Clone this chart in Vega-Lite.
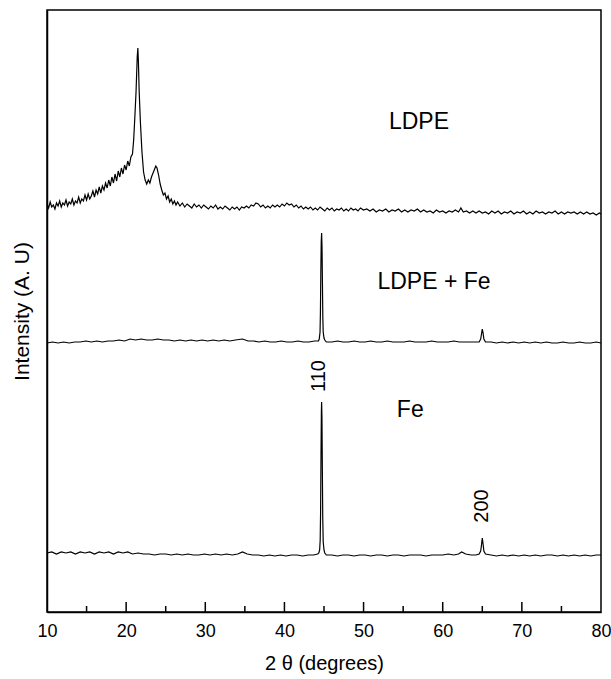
{
  "$schema": "https://vega.github.io/schema/vega-lite/v6.json",
  "width": 554,
  "height": 602,
  "autosize": {"type": "none"},
  "padding": {"left": 47, "top": 10, "right": 10, "bottom": 67},
  "background": "white",
  "config": {
    "view": {"stroke": "black", "strokeWidth": 1.5},
    "font": "Liberation Sans"
  },
  "datasets": {
    "xrd": [
      {"theta": 10.0, "intensity": 408, "sample": "LDPE"},
      {"theta": 10.2, "intensity": 404, "sample": "LDPE"},
      {"theta": 10.4, "intensity": 410, "sample": "LDPE"},
      {"theta": 10.6, "intensity": 405, "sample": "LDPE"},
      {"theta": 10.8, "intensity": 407, "sample": "LDPE"},
      {"theta": 11.0, "intensity": 403, "sample": "LDPE"},
      {"theta": 11.2, "intensity": 409, "sample": "LDPE"},
      {"theta": 11.4, "intensity": 406, "sample": "LDPE"},
      {"theta": 11.6, "intensity": 411, "sample": "LDPE"},
      {"theta": 11.8, "intensity": 405, "sample": "LDPE"},
      {"theta": 12.0, "intensity": 409, "sample": "LDPE"},
      {"theta": 12.2, "intensity": 407, "sample": "LDPE"},
      {"theta": 12.4, "intensity": 412, "sample": "LDPE"},
      {"theta": 12.6, "intensity": 406, "sample": "LDPE"},
      {"theta": 12.8, "intensity": 410, "sample": "LDPE"},
      {"theta": 13.0, "intensity": 408, "sample": "LDPE"},
      {"theta": 13.2, "intensity": 413, "sample": "LDPE"},
      {"theta": 13.4, "intensity": 407, "sample": "LDPE"},
      {"theta": 13.6, "intensity": 411, "sample": "LDPE"},
      {"theta": 13.8, "intensity": 409, "sample": "LDPE"},
      {"theta": 14.0, "intensity": 415, "sample": "LDPE"},
      {"theta": 14.2, "intensity": 409, "sample": "LDPE"},
      {"theta": 14.4, "intensity": 413, "sample": "LDPE"},
      {"theta": 14.6, "intensity": 411, "sample": "LDPE"},
      {"theta": 14.8, "intensity": 417, "sample": "LDPE"},
      {"theta": 15.0, "intensity": 412, "sample": "LDPE"},
      {"theta": 15.2, "intensity": 418, "sample": "LDPE"},
      {"theta": 15.4, "intensity": 413, "sample": "LDPE"},
      {"theta": 15.6, "intensity": 416, "sample": "LDPE"},
      {"theta": 15.8, "intensity": 421, "sample": "LDPE"},
      {"theta": 16.0, "intensity": 415, "sample": "LDPE"},
      {"theta": 16.2, "intensity": 422, "sample": "LDPE"},
      {"theta": 16.4, "intensity": 418, "sample": "LDPE"},
      {"theta": 16.6, "intensity": 425, "sample": "LDPE"},
      {"theta": 16.8, "intensity": 419, "sample": "LDPE"},
      {"theta": 17.0, "intensity": 426, "sample": "LDPE"},
      {"theta": 17.2, "intensity": 422, "sample": "LDPE"},
      {"theta": 17.4, "intensity": 429, "sample": "LDPE"},
      {"theta": 17.6, "intensity": 424, "sample": "LDPE"},
      {"theta": 17.8, "intensity": 432, "sample": "LDPE"},
      {"theta": 18.0, "intensity": 426, "sample": "LDPE"},
      {"theta": 18.2, "intensity": 435, "sample": "LDPE"},
      {"theta": 18.4, "intensity": 429, "sample": "LDPE"},
      {"theta": 18.6, "intensity": 438, "sample": "LDPE"},
      {"theta": 18.8, "intensity": 431, "sample": "LDPE"},
      {"theta": 19.0, "intensity": 441, "sample": "LDPE"},
      {"theta": 19.2, "intensity": 435, "sample": "LDPE"},
      {"theta": 19.4, "intensity": 444, "sample": "LDPE"},
      {"theta": 19.6, "intensity": 438, "sample": "LDPE"},
      {"theta": 19.8, "intensity": 447, "sample": "LDPE"},
      {"theta": 20.0, "intensity": 442, "sample": "LDPE"},
      {"theta": 20.2, "intensity": 451, "sample": "LDPE"},
      {"theta": 20.4, "intensity": 446, "sample": "LDPE"},
      {"theta": 20.6, "intensity": 455, "sample": "LDPE"},
      {"theta": 20.8, "intensity": 458, "sample": "LDPE"},
      {"theta": 20.95, "intensity": 472, "sample": "LDPE"},
      {"theta": 21.1, "intensity": 495, "sample": "LDPE"},
      {"theta": 21.25, "intensity": 520, "sample": "LDPE"},
      {"theta": 21.4, "intensity": 555, "sample": "LDPE"},
      {"theta": 21.48, "intensity": 564, "sample": "LDPE"},
      {"theta": 21.55, "intensity": 550, "sample": "LDPE"},
      {"theta": 21.65, "intensity": 520, "sample": "LDPE"},
      {"theta": 21.8, "intensity": 490, "sample": "LDPE"},
      {"theta": 22.0, "intensity": 460, "sample": "LDPE"},
      {"theta": 22.2, "intensity": 440, "sample": "LDPE"},
      {"theta": 22.4, "intensity": 432, "sample": "LDPE"},
      {"theta": 22.6, "intensity": 428, "sample": "LDPE"},
      {"theta": 22.8, "intensity": 432, "sample": "LDPE"},
      {"theta": 23.0, "intensity": 429, "sample": "LDPE"},
      {"theta": 23.2, "intensity": 435, "sample": "LDPE"},
      {"theta": 23.4, "intensity": 439, "sample": "LDPE"},
      {"theta": 23.6, "intensity": 443, "sample": "LDPE"},
      {"theta": 23.75, "intensity": 446, "sample": "LDPE"},
      {"theta": 23.9, "intensity": 444, "sample": "LDPE"},
      {"theta": 24.1, "intensity": 437, "sample": "LDPE"},
      {"theta": 24.3, "intensity": 428, "sample": "LDPE"},
      {"theta": 24.5, "intensity": 422, "sample": "LDPE"},
      {"theta": 24.7, "intensity": 417, "sample": "LDPE"},
      {"theta": 24.9, "intensity": 419, "sample": "LDPE"},
      {"theta": 25.1, "intensity": 413, "sample": "LDPE"},
      {"theta": 25.3, "intensity": 416, "sample": "LDPE"},
      {"theta": 25.5, "intensity": 410, "sample": "LDPE"},
      {"theta": 25.7, "intensity": 413, "sample": "LDPE"},
      {"theta": 25.9, "intensity": 408, "sample": "LDPE"},
      {"theta": 26.1, "intensity": 411, "sample": "LDPE"},
      {"theta": 26.3, "intensity": 407, "sample": "LDPE"},
      {"theta": 26.5, "intensity": 410, "sample": "LDPE"},
      {"theta": 26.8, "intensity": 406, "sample": "LDPE"},
      {"theta": 27.1, "intensity": 409, "sample": "LDPE"},
      {"theta": 27.4, "intensity": 405, "sample": "LDPE"},
      {"theta": 27.7, "intensity": 408, "sample": "LDPE"},
      {"theta": 28.0, "intensity": 406, "sample": "LDPE"},
      {"theta": 28.3, "intensity": 404, "sample": "LDPE"},
      {"theta": 28.6, "intensity": 408, "sample": "LDPE"},
      {"theta": 28.9, "intensity": 405, "sample": "LDPE"},
      {"theta": 29.2, "intensity": 407, "sample": "LDPE"},
      {"theta": 29.5, "intensity": 404, "sample": "LDPE"},
      {"theta": 29.8, "intensity": 407, "sample": "LDPE"},
      {"theta": 30.1, "intensity": 405, "sample": "LDPE"},
      {"theta": 30.4, "intensity": 403, "sample": "LDPE"},
      {"theta": 30.7, "intensity": 406, "sample": "LDPE"},
      {"theta": 31.0, "intensity": 404, "sample": "LDPE"},
      {"theta": 31.3, "intensity": 407, "sample": "LDPE"},
      {"theta": 31.6, "intensity": 403, "sample": "LDPE"},
      {"theta": 31.9, "intensity": 405, "sample": "LDPE"},
      {"theta": 32.2, "intensity": 403, "sample": "LDPE"},
      {"theta": 32.5, "intensity": 406, "sample": "LDPE"},
      {"theta": 32.8, "intensity": 404, "sample": "LDPE"},
      {"theta": 33.1, "intensity": 402, "sample": "LDPE"},
      {"theta": 33.4, "intensity": 405, "sample": "LDPE"},
      {"theta": 33.7, "intensity": 403, "sample": "LDPE"},
      {"theta": 34.0, "intensity": 405, "sample": "LDPE"},
      {"theta": 34.3, "intensity": 402, "sample": "LDPE"},
      {"theta": 34.6, "intensity": 405, "sample": "LDPE"},
      {"theta": 34.9, "intensity": 404, "sample": "LDPE"},
      {"theta": 35.2, "intensity": 406, "sample": "LDPE"},
      {"theta": 35.5, "intensity": 404, "sample": "LDPE"},
      {"theta": 35.8, "intensity": 407, "sample": "LDPE"},
      {"theta": 36.1, "intensity": 406, "sample": "LDPE"},
      {"theta": 36.4, "intensity": 409, "sample": "LDPE"},
      {"theta": 36.7, "intensity": 408, "sample": "LDPE"},
      {"theta": 37.0, "intensity": 405, "sample": "LDPE"},
      {"theta": 37.3, "intensity": 407, "sample": "LDPE"},
      {"theta": 37.6, "intensity": 404, "sample": "LDPE"},
      {"theta": 37.9, "intensity": 406, "sample": "LDPE"},
      {"theta": 38.2, "intensity": 404, "sample": "LDPE"},
      {"theta": 38.5, "intensity": 407, "sample": "LDPE"},
      {"theta": 38.8, "intensity": 405, "sample": "LDPE"},
      {"theta": 39.1, "intensity": 407, "sample": "LDPE"},
      {"theta": 39.4, "intensity": 405, "sample": "LDPE"},
      {"theta": 39.7, "intensity": 408, "sample": "LDPE"},
      {"theta": 40.0, "intensity": 406, "sample": "LDPE"},
      {"theta": 40.3, "intensity": 409, "sample": "LDPE"},
      {"theta": 40.6, "intensity": 407, "sample": "LDPE"},
      {"theta": 40.9, "intensity": 408, "sample": "LDPE"},
      {"theta": 41.2, "intensity": 405, "sample": "LDPE"},
      {"theta": 41.5, "intensity": 407, "sample": "LDPE"},
      {"theta": 41.8, "intensity": 404, "sample": "LDPE"},
      {"theta": 42.1, "intensity": 406, "sample": "LDPE"},
      {"theta": 42.4, "intensity": 403, "sample": "LDPE"},
      {"theta": 42.7, "intensity": 405, "sample": "LDPE"},
      {"theta": 43.0, "intensity": 403, "sample": "LDPE"},
      {"theta": 43.3, "intensity": 405, "sample": "LDPE"},
      {"theta": 43.6, "intensity": 402, "sample": "LDPE"},
      {"theta": 43.9, "intensity": 404, "sample": "LDPE"},
      {"theta": 44.2, "intensity": 402, "sample": "LDPE"},
      {"theta": 44.5, "intensity": 405, "sample": "LDPE"},
      {"theta": 44.8, "intensity": 403, "sample": "LDPE"},
      {"theta": 45.1, "intensity": 401, "sample": "LDPE"},
      {"theta": 45.4, "intensity": 404, "sample": "LDPE"},
      {"theta": 45.7, "intensity": 402, "sample": "LDPE"},
      {"theta": 46.0, "intensity": 404, "sample": "LDPE"},
      {"theta": 46.3, "intensity": 401, "sample": "LDPE"},
      {"theta": 46.6, "intensity": 403, "sample": "LDPE"},
      {"theta": 46.9, "intensity": 402, "sample": "LDPE"},
      {"theta": 47.2, "intensity": 404, "sample": "LDPE"},
      {"theta": 47.5, "intensity": 401, "sample": "LDPE"},
      {"theta": 47.8, "intensity": 403, "sample": "LDPE"},
      {"theta": 48.1, "intensity": 401, "sample": "LDPE"},
      {"theta": 48.4, "intensity": 404, "sample": "LDPE"},
      {"theta": 48.7, "intensity": 402, "sample": "LDPE"},
      {"theta": 49.0, "intensity": 403, "sample": "LDPE"},
      {"theta": 49.3, "intensity": 401, "sample": "LDPE"},
      {"theta": 49.6, "intensity": 404, "sample": "LDPE"},
      {"theta": 50.0, "intensity": 402, "sample": "LDPE"},
      {"theta": 50.4, "intensity": 403, "sample": "LDPE"},
      {"theta": 50.8, "intensity": 401, "sample": "LDPE"},
      {"theta": 51.2, "intensity": 403, "sample": "LDPE"},
      {"theta": 51.6, "intensity": 400, "sample": "LDPE"},
      {"theta": 52.0, "intensity": 402, "sample": "LDPE"},
      {"theta": 52.4, "intensity": 401, "sample": "LDPE"},
      {"theta": 52.8, "intensity": 403, "sample": "LDPE"},
      {"theta": 53.2, "intensity": 400, "sample": "LDPE"},
      {"theta": 53.6, "intensity": 402, "sample": "LDPE"},
      {"theta": 54.0, "intensity": 401, "sample": "LDPE"},
      {"theta": 54.4, "intensity": 403, "sample": "LDPE"},
      {"theta": 54.8, "intensity": 400, "sample": "LDPE"},
      {"theta": 55.2, "intensity": 402, "sample": "LDPE"},
      {"theta": 55.6, "intensity": 400, "sample": "LDPE"},
      {"theta": 56.0, "intensity": 402, "sample": "LDPE"},
      {"theta": 56.4, "intensity": 401, "sample": "LDPE"},
      {"theta": 56.8, "intensity": 403, "sample": "LDPE"},
      {"theta": 57.2, "intensity": 400, "sample": "LDPE"},
      {"theta": 57.6, "intensity": 402, "sample": "LDPE"},
      {"theta": 58.0, "intensity": 400, "sample": "LDPE"},
      {"theta": 58.4, "intensity": 401, "sample": "LDPE"},
      {"theta": 58.8, "intensity": 399, "sample": "LDPE"},
      {"theta": 59.2, "intensity": 402, "sample": "LDPE"},
      {"theta": 59.6, "intensity": 400, "sample": "LDPE"},
      {"theta": 60.0, "intensity": 401, "sample": "LDPE"},
      {"theta": 60.4, "intensity": 399, "sample": "LDPE"},
      {"theta": 60.8, "intensity": 401, "sample": "LDPE"},
      {"theta": 61.2, "intensity": 400, "sample": "LDPE"},
      {"theta": 61.6, "intensity": 402, "sample": "LDPE"},
      {"theta": 62.0, "intensity": 400, "sample": "LDPE"},
      {"theta": 62.3, "intensity": 404, "sample": "LDPE"},
      {"theta": 62.6, "intensity": 400, "sample": "LDPE"},
      {"theta": 63.0, "intensity": 401, "sample": "LDPE"},
      {"theta": 63.4, "intensity": 399, "sample": "LDPE"},
      {"theta": 63.8, "intensity": 401, "sample": "LDPE"},
      {"theta": 64.2, "intensity": 399, "sample": "LDPE"},
      {"theta": 64.6, "intensity": 401, "sample": "LDPE"},
      {"theta": 65.0, "intensity": 399, "sample": "LDPE"},
      {"theta": 65.4, "intensity": 400, "sample": "LDPE"},
      {"theta": 65.8, "intensity": 398, "sample": "LDPE"},
      {"theta": 66.2, "intensity": 401, "sample": "LDPE"},
      {"theta": 66.6, "intensity": 399, "sample": "LDPE"},
      {"theta": 67.0, "intensity": 401, "sample": "LDPE"},
      {"theta": 67.4, "intensity": 398, "sample": "LDPE"},
      {"theta": 67.8, "intensity": 400, "sample": "LDPE"},
      {"theta": 68.2, "intensity": 399, "sample": "LDPE"},
      {"theta": 68.6, "intensity": 401, "sample": "LDPE"},
      {"theta": 69.0, "intensity": 398, "sample": "LDPE"},
      {"theta": 69.4, "intensity": 400, "sample": "LDPE"},
      {"theta": 69.8, "intensity": 399, "sample": "LDPE"},
      {"theta": 70.2, "intensity": 401, "sample": "LDPE"},
      {"theta": 70.6, "intensity": 398, "sample": "LDPE"},
      {"theta": 71.0, "intensity": 400, "sample": "LDPE"},
      {"theta": 71.4, "intensity": 398, "sample": "LDPE"},
      {"theta": 71.8, "intensity": 401, "sample": "LDPE"},
      {"theta": 72.2, "intensity": 399, "sample": "LDPE"},
      {"theta": 72.6, "intensity": 400, "sample": "LDPE"},
      {"theta": 73.0, "intensity": 398, "sample": "LDPE"},
      {"theta": 73.4, "intensity": 400, "sample": "LDPE"},
      {"theta": 73.8, "intensity": 399, "sample": "LDPE"},
      {"theta": 74.2, "intensity": 401, "sample": "LDPE"},
      {"theta": 74.6, "intensity": 398, "sample": "LDPE"},
      {"theta": 75.0, "intensity": 400, "sample": "LDPE"},
      {"theta": 75.4, "intensity": 398, "sample": "LDPE"},
      {"theta": 75.8, "intensity": 400, "sample": "LDPE"},
      {"theta": 76.2, "intensity": 399, "sample": "LDPE"},
      {"theta": 76.6, "intensity": 400, "sample": "LDPE"},
      {"theta": 77.0, "intensity": 398, "sample": "LDPE"},
      {"theta": 77.4, "intensity": 400, "sample": "LDPE"},
      {"theta": 77.8, "intensity": 398, "sample": "LDPE"},
      {"theta": 78.2, "intensity": 400, "sample": "LDPE"},
      {"theta": 78.6, "intensity": 398, "sample": "LDPE"},
      {"theta": 79.0, "intensity": 399, "sample": "LDPE"},
      {"theta": 79.4, "intensity": 397, "sample": "LDPE"},
      {"theta": 79.8, "intensity": 399, "sample": "LDPE"},
      {"theta": 80.0, "intensity": 398, "sample": "LDPE"},

      {"theta": 10.0, "intensity": 269, "sample": "LDPE + Fe"},
      {"theta": 10.7, "intensity": 270, "sample": "LDPE + Fe"},
      {"theta": 11.4, "intensity": 269, "sample": "LDPE + Fe"},
      {"theta": 12.1, "intensity": 270, "sample": "LDPE + Fe"},
      {"theta": 12.8, "intensity": 269, "sample": "LDPE + Fe"},
      {"theta": 13.5, "intensity": 270, "sample": "LDPE + Fe"},
      {"theta": 14.2, "intensity": 270, "sample": "LDPE + Fe"},
      {"theta": 14.9, "intensity": 271, "sample": "LDPE + Fe"},
      {"theta": 15.6, "intensity": 270, "sample": "LDPE + Fe"},
      {"theta": 16.3, "intensity": 271, "sample": "LDPE + Fe"},
      {"theta": 17.0, "intensity": 270, "sample": "LDPE + Fe"},
      {"theta": 17.7, "intensity": 271, "sample": "LDPE + Fe"},
      {"theta": 18.4, "intensity": 271, "sample": "LDPE + Fe"},
      {"theta": 19.1, "intensity": 272, "sample": "LDPE + Fe"},
      {"theta": 19.8, "intensity": 271, "sample": "LDPE + Fe"},
      {"theta": 20.5, "intensity": 273, "sample": "LDPE + Fe"},
      {"theta": 21.2, "intensity": 272, "sample": "LDPE + Fe"},
      {"theta": 21.9, "intensity": 273, "sample": "LDPE + Fe"},
      {"theta": 22.6, "intensity": 272, "sample": "LDPE + Fe"},
      {"theta": 23.3, "intensity": 272, "sample": "LDPE + Fe"},
      {"theta": 24.0, "intensity": 273, "sample": "LDPE + Fe"},
      {"theta": 24.7, "intensity": 272, "sample": "LDPE + Fe"},
      {"theta": 25.4, "intensity": 272, "sample": "LDPE + Fe"},
      {"theta": 26.1, "intensity": 271, "sample": "LDPE + Fe"},
      {"theta": 26.8, "intensity": 272, "sample": "LDPE + Fe"},
      {"theta": 27.5, "intensity": 271, "sample": "LDPE + Fe"},
      {"theta": 28.2, "intensity": 272, "sample": "LDPE + Fe"},
      {"theta": 28.9, "intensity": 271, "sample": "LDPE + Fe"},
      {"theta": 29.6, "intensity": 272, "sample": "LDPE + Fe"},
      {"theta": 30.3, "intensity": 271, "sample": "LDPE + Fe"},
      {"theta": 31.0, "intensity": 272, "sample": "LDPE + Fe"},
      {"theta": 31.7, "intensity": 271, "sample": "LDPE + Fe"},
      {"theta": 32.4, "intensity": 272, "sample": "LDPE + Fe"},
      {"theta": 33.1, "intensity": 271, "sample": "LDPE + Fe"},
      {"theta": 33.8, "intensity": 272, "sample": "LDPE + Fe"},
      {"theta": 34.7, "intensity": 273, "sample": "LDPE + Fe"},
      {"theta": 35.4, "intensity": 271, "sample": "LDPE + Fe"},
      {"theta": 36.1, "intensity": 271, "sample": "LDPE + Fe"},
      {"theta": 36.8, "intensity": 270, "sample": "LDPE + Fe"},
      {"theta": 37.5, "intensity": 271, "sample": "LDPE + Fe"},
      {"theta": 38.2, "intensity": 270, "sample": "LDPE + Fe"},
      {"theta": 38.9, "intensity": 270, "sample": "LDPE + Fe"},
      {"theta": 39.6, "intensity": 271, "sample": "LDPE + Fe"},
      {"theta": 40.3, "intensity": 270, "sample": "LDPE + Fe"},
      {"theta": 41.0, "intensity": 270, "sample": "LDPE + Fe"},
      {"theta": 41.7, "intensity": 271, "sample": "LDPE + Fe"},
      {"theta": 42.4, "intensity": 270, "sample": "LDPE + Fe"},
      {"theta": 43.1, "intensity": 270, "sample": "LDPE + Fe"},
      {"theta": 43.8, "intensity": 271, "sample": "LDPE + Fe"},
      {"theta": 44.3, "intensity": 271, "sample": "LDPE + Fe"},
      {"theta": 44.4, "intensity": 273, "sample": "LDPE + Fe"},
      {"theta": 44.5, "intensity": 280, "sample": "LDPE + Fe"},
      {"theta": 44.55, "intensity": 300, "sample": "LDPE + Fe"},
      {"theta": 44.6, "intensity": 340, "sample": "LDPE + Fe"},
      {"theta": 44.65, "intensity": 370, "sample": "LDPE + Fe"},
      {"theta": 44.7, "intensity": 379, "sample": "LDPE + Fe"},
      {"theta": 44.75, "intensity": 365, "sample": "LDPE + Fe"},
      {"theta": 44.8, "intensity": 330, "sample": "LDPE + Fe"},
      {"theta": 44.85, "intensity": 295, "sample": "LDPE + Fe"},
      {"theta": 44.9, "intensity": 280, "sample": "LDPE + Fe"},
      {"theta": 45.0, "intensity": 274, "sample": "LDPE + Fe"},
      {"theta": 45.1, "intensity": 272, "sample": "LDPE + Fe"},
      {"theta": 45.3, "intensity": 270, "sample": "LDPE + Fe"},
      {"theta": 46.0, "intensity": 270, "sample": "LDPE + Fe"},
      {"theta": 46.7, "intensity": 271, "sample": "LDPE + Fe"},
      {"theta": 47.4, "intensity": 270, "sample": "LDPE + Fe"},
      {"theta": 48.1, "intensity": 270, "sample": "LDPE + Fe"},
      {"theta": 48.8, "intensity": 271, "sample": "LDPE + Fe"},
      {"theta": 49.5, "intensity": 270, "sample": "LDPE + Fe"},
      {"theta": 50.2, "intensity": 270, "sample": "LDPE + Fe"},
      {"theta": 50.9, "intensity": 271, "sample": "LDPE + Fe"},
      {"theta": 51.6, "intensity": 270, "sample": "LDPE + Fe"},
      {"theta": 52.3, "intensity": 270, "sample": "LDPE + Fe"},
      {"theta": 53.0, "intensity": 271, "sample": "LDPE + Fe"},
      {"theta": 53.7, "intensity": 270, "sample": "LDPE + Fe"},
      {"theta": 54.4, "intensity": 270, "sample": "LDPE + Fe"},
      {"theta": 55.1, "intensity": 270, "sample": "LDPE + Fe"},
      {"theta": 55.8, "intensity": 271, "sample": "LDPE + Fe"},
      {"theta": 56.5, "intensity": 270, "sample": "LDPE + Fe"},
      {"theta": 57.2, "intensity": 270, "sample": "LDPE + Fe"},
      {"theta": 57.9, "intensity": 270, "sample": "LDPE + Fe"},
      {"theta": 58.6, "intensity": 271, "sample": "LDPE + Fe"},
      {"theta": 59.3, "intensity": 270, "sample": "LDPE + Fe"},
      {"theta": 60.0, "intensity": 270, "sample": "LDPE + Fe"},
      {"theta": 60.7, "intensity": 270, "sample": "LDPE + Fe"},
      {"theta": 61.4, "intensity": 271, "sample": "LDPE + Fe"},
      {"theta": 62.1, "intensity": 270, "sample": "LDPE + Fe"},
      {"theta": 62.8, "intensity": 270, "sample": "LDPE + Fe"},
      {"theta": 63.5, "intensity": 270, "sample": "LDPE + Fe"},
      {"theta": 64.2, "intensity": 270, "sample": "LDPE + Fe"},
      {"theta": 64.6, "intensity": 270, "sample": "LDPE + Fe"},
      {"theta": 64.8, "intensity": 273, "sample": "LDPE + Fe"},
      {"theta": 64.9, "intensity": 278, "sample": "LDPE + Fe"},
      {"theta": 65.0, "intensity": 283, "sample": "LDPE + Fe"},
      {"theta": 65.1, "intensity": 279, "sample": "LDPE + Fe"},
      {"theta": 65.2, "intensity": 273, "sample": "LDPE + Fe"},
      {"theta": 65.4, "intensity": 270, "sample": "LDPE + Fe"},
      {"theta": 66.1, "intensity": 270, "sample": "LDPE + Fe"},
      {"theta": 66.8, "intensity": 269, "sample": "LDPE + Fe"},
      {"theta": 67.5, "intensity": 270, "sample": "LDPE + Fe"},
      {"theta": 68.2, "intensity": 269, "sample": "LDPE + Fe"},
      {"theta": 68.9, "intensity": 270, "sample": "LDPE + Fe"},
      {"theta": 69.6, "intensity": 269, "sample": "LDPE + Fe"},
      {"theta": 70.3, "intensity": 270, "sample": "LDPE + Fe"},
      {"theta": 71.0, "intensity": 269, "sample": "LDPE + Fe"},
      {"theta": 71.7, "intensity": 270, "sample": "LDPE + Fe"},
      {"theta": 72.4, "intensity": 269, "sample": "LDPE + Fe"},
      {"theta": 73.1, "intensity": 270, "sample": "LDPE + Fe"},
      {"theta": 73.8, "intensity": 269, "sample": "LDPE + Fe"},
      {"theta": 74.5, "intensity": 269, "sample": "LDPE + Fe"},
      {"theta": 75.2, "intensity": 270, "sample": "LDPE + Fe"},
      {"theta": 75.9, "intensity": 269, "sample": "LDPE + Fe"},
      {"theta": 76.6, "intensity": 269, "sample": "LDPE + Fe"},
      {"theta": 77.3, "intensity": 270, "sample": "LDPE + Fe"},
      {"theta": 78.0, "intensity": 269, "sample": "LDPE + Fe"},
      {"theta": 78.7, "intensity": 269, "sample": "LDPE + Fe"},
      {"theta": 79.4, "intensity": 270, "sample": "LDPE + Fe"},
      {"theta": 80.0, "intensity": 269, "sample": "LDPE + Fe"},

      {"theta": 10.0, "intensity": 59, "sample": "Fe"},
      {"theta": 10.6, "intensity": 60, "sample": "Fe"},
      {"theta": 11.2, "intensity": 58, "sample": "Fe"},
      {"theta": 11.8, "intensity": 60, "sample": "Fe"},
      {"theta": 12.4, "intensity": 59, "sample": "Fe"},
      {"theta": 13.0, "intensity": 60, "sample": "Fe"},
      {"theta": 13.6, "intensity": 58, "sample": "Fe"},
      {"theta": 14.2, "intensity": 60, "sample": "Fe"},
      {"theta": 14.8, "intensity": 59, "sample": "Fe"},
      {"theta": 15.4, "intensity": 60, "sample": "Fe"},
      {"theta": 16.0, "intensity": 58, "sample": "Fe"},
      {"theta": 16.6, "intensity": 60, "sample": "Fe"},
      {"theta": 17.2, "intensity": 59, "sample": "Fe"},
      {"theta": 17.8, "intensity": 60, "sample": "Fe"},
      {"theta": 18.4, "intensity": 58, "sample": "Fe"},
      {"theta": 19.0, "intensity": 60, "sample": "Fe"},
      {"theta": 19.6, "intensity": 59, "sample": "Fe"},
      {"theta": 20.2, "intensity": 60, "sample": "Fe"},
      {"theta": 20.8, "intensity": 58, "sample": "Fe"},
      {"theta": 21.5, "intensity": 59, "sample": "Fe"},
      {"theta": 22.2, "intensity": 58, "sample": "Fe"},
      {"theta": 22.9, "intensity": 58, "sample": "Fe"},
      {"theta": 23.6, "intensity": 57, "sample": "Fe"},
      {"theta": 24.3, "intensity": 58, "sample": "Fe"},
      {"theta": 25.0, "intensity": 58, "sample": "Fe"},
      {"theta": 25.7, "intensity": 57, "sample": "Fe"},
      {"theta": 26.4, "intensity": 58, "sample": "Fe"},
      {"theta": 27.1, "intensity": 57, "sample": "Fe"},
      {"theta": 27.8, "intensity": 58, "sample": "Fe"},
      {"theta": 28.5, "intensity": 57, "sample": "Fe"},
      {"theta": 29.2, "intensity": 57, "sample": "Fe"},
      {"theta": 29.9, "intensity": 58, "sample": "Fe"},
      {"theta": 30.6, "intensity": 57, "sample": "Fe"},
      {"theta": 31.3, "intensity": 58, "sample": "Fe"},
      {"theta": 32.0, "intensity": 57, "sample": "Fe"},
      {"theta": 32.7, "intensity": 58, "sample": "Fe"},
      {"theta": 33.4, "intensity": 57, "sample": "Fe"},
      {"theta": 34.1, "intensity": 58, "sample": "Fe"},
      {"theta": 34.7, "intensity": 60, "sample": "Fe"},
      {"theta": 35.3, "intensity": 58, "sample": "Fe"},
      {"theta": 36.0, "intensity": 57, "sample": "Fe"},
      {"theta": 36.7, "intensity": 57, "sample": "Fe"},
      {"theta": 37.4, "intensity": 56, "sample": "Fe"},
      {"theta": 38.1, "intensity": 57, "sample": "Fe"},
      {"theta": 38.8, "intensity": 56, "sample": "Fe"},
      {"theta": 39.5, "intensity": 57, "sample": "Fe"},
      {"theta": 40.2, "intensity": 56, "sample": "Fe"},
      {"theta": 40.9, "intensity": 57, "sample": "Fe"},
      {"theta": 41.6, "intensity": 57, "sample": "Fe"},
      {"theta": 42.3, "intensity": 56, "sample": "Fe"},
      {"theta": 43.0, "intensity": 57, "sample": "Fe"},
      {"theta": 43.7, "intensity": 57, "sample": "Fe"},
      {"theta": 44.2, "intensity": 58, "sample": "Fe"},
      {"theta": 44.35, "intensity": 59, "sample": "Fe"},
      {"theta": 44.45, "intensity": 62, "sample": "Fe"},
      {"theta": 44.52, "intensity": 72, "sample": "Fe"},
      {"theta": 44.57, "intensity": 100, "sample": "Fe"},
      {"theta": 44.62, "intensity": 155, "sample": "Fe"},
      {"theta": 44.67, "intensity": 200, "sample": "Fe"},
      {"theta": 44.7, "intensity": 210, "sample": "Fe"},
      {"theta": 44.74, "intensity": 195, "sample": "Fe"},
      {"theta": 44.79, "intensity": 145, "sample": "Fe"},
      {"theta": 44.84, "intensity": 95, "sample": "Fe"},
      {"theta": 44.9, "intensity": 70, "sample": "Fe"},
      {"theta": 45.0, "intensity": 62, "sample": "Fe"},
      {"theta": 45.1, "intensity": 59, "sample": "Fe"},
      {"theta": 45.3, "intensity": 57, "sample": "Fe"},
      {"theta": 46.0, "intensity": 57, "sample": "Fe"},
      {"theta": 46.7, "intensity": 56, "sample": "Fe"},
      {"theta": 47.4, "intensity": 57, "sample": "Fe"},
      {"theta": 48.1, "intensity": 57, "sample": "Fe"},
      {"theta": 48.8, "intensity": 56, "sample": "Fe"},
      {"theta": 49.5, "intensity": 57, "sample": "Fe"},
      {"theta": 50.2, "intensity": 57, "sample": "Fe"},
      {"theta": 50.9, "intensity": 56, "sample": "Fe"},
      {"theta": 51.6, "intensity": 57, "sample": "Fe"},
      {"theta": 52.3, "intensity": 57, "sample": "Fe"},
      {"theta": 53.0, "intensity": 56, "sample": "Fe"},
      {"theta": 53.7, "intensity": 57, "sample": "Fe"},
      {"theta": 54.4, "intensity": 57, "sample": "Fe"},
      {"theta": 55.1, "intensity": 56, "sample": "Fe"},
      {"theta": 55.8, "intensity": 57, "sample": "Fe"},
      {"theta": 56.5, "intensity": 57, "sample": "Fe"},
      {"theta": 57.2, "intensity": 57, "sample": "Fe"},
      {"theta": 57.9, "intensity": 56, "sample": "Fe"},
      {"theta": 58.6, "intensity": 57, "sample": "Fe"},
      {"theta": 59.3, "intensity": 57, "sample": "Fe"},
      {"theta": 60.0, "intensity": 57, "sample": "Fe"},
      {"theta": 60.7, "intensity": 58, "sample": "Fe"},
      {"theta": 61.4, "intensity": 57, "sample": "Fe"},
      {"theta": 62.0, "intensity": 58, "sample": "Fe"},
      {"theta": 62.4, "intensity": 60, "sample": "Fe"},
      {"theta": 62.9, "intensity": 58, "sample": "Fe"},
      {"theta": 63.6, "intensity": 57, "sample": "Fe"},
      {"theta": 64.2, "intensity": 57, "sample": "Fe"},
      {"theta": 64.6, "intensity": 58, "sample": "Fe"},
      {"theta": 64.8, "intensity": 61, "sample": "Fe"},
      {"theta": 64.9, "intensity": 67, "sample": "Fe"},
      {"theta": 65.0, "intensity": 74, "sample": "Fe"},
      {"theta": 65.1, "intensity": 68, "sample": "Fe"},
      {"theta": 65.2, "intensity": 61, "sample": "Fe"},
      {"theta": 65.4, "intensity": 58, "sample": "Fe"},
      {"theta": 66.1, "intensity": 57, "sample": "Fe"},
      {"theta": 66.8, "intensity": 56, "sample": "Fe"},
      {"theta": 67.5, "intensity": 57, "sample": "Fe"},
      {"theta": 68.2, "intensity": 56, "sample": "Fe"},
      {"theta": 68.9, "intensity": 57, "sample": "Fe"},
      {"theta": 69.6, "intensity": 56, "sample": "Fe"},
      {"theta": 70.3, "intensity": 57, "sample": "Fe"},
      {"theta": 71.0, "intensity": 56, "sample": "Fe"},
      {"theta": 71.7, "intensity": 57, "sample": "Fe"},
      {"theta": 72.4, "intensity": 56, "sample": "Fe"},
      {"theta": 73.1, "intensity": 57, "sample": "Fe"},
      {"theta": 73.8, "intensity": 57, "sample": "Fe"},
      {"theta": 74.5, "intensity": 56, "sample": "Fe"},
      {"theta": 75.2, "intensity": 57, "sample": "Fe"},
      {"theta": 75.9, "intensity": 56, "sample": "Fe"},
      {"theta": 76.6, "intensity": 57, "sample": "Fe"},
      {"theta": 77.3, "intensity": 56, "sample": "Fe"},
      {"theta": 78.0, "intensity": 57, "sample": "Fe"},
      {"theta": 78.7, "intensity": 56, "sample": "Fe"},
      {"theta": 79.4, "intensity": 57, "sample": "Fe"},
      {"theta": 80.0, "intensity": 57, "sample": "Fe"}
    ],
    "labels": [
      {"theta": 57.0, "intensity": 490, "text": "LDPE"},
      {"theta": 58.9, "intensity": 330, "text": "LDPE + Fe"},
      {"theta": 55.9, "intensity": 202, "text": "Fe"}
    ],
    "peaks": [
      {"theta": 44.4, "intensity": 236, "text": "110"},
      {"theta": 65.0, "intensity": 106, "text": "200"}
    ],
    "majorTicks": [
      {"theta": 20}, {"theta": 30}, {"theta": 40}, {"theta": 50}, {"theta": 60}, {"theta": 70}
    ],
    "minorTicks": [
      {"theta": 15}, {"theta": 25}, {"theta": 35}, {"theta": 45}, {"theta": 55}, {"theta": 65}, {"theta": 75}
    ]
  },
  "layer": [
    {
      "data": {"name": "xrd"},
      "mark": {"type": "line", "color": "black", "strokeWidth": 1.2, "interpolate": "linear"},
      "encoding": {
        "x": {
          "field": "theta", "type": "quantitative",
          "scale": {"domain": [10, 80], "nice": false, "zero": false},
          "axis": {
            "title": "2 θ (degrees)",
            "values": [10, 20, 30, 40, 50, 60, 70, 80],
            "ticks": false,
            "domainColor": "black", "domainWidth": 1.5,
            "grid": false,
            "labelFontSize": 18, "labelColor": "black", "labelPadding": 10,
            "labelFont": "Liberation Sans", "labelFlush": false,
            "titleFontSize": 20, "titleFontWeight": "normal", "titleColor": "black",
            "titleFont": "Liberation Sans", "titlePadding": 13
          }
        },
        "y": {
          "field": "intensity", "type": "quantitative",
          "scale": {"domain": [0, 602], "nice": false, "zero": false},
          "axis": {
            "title": "Intensity (A. U)",
            "ticks": false, "labels": false, "grid": false,
            "domainColor": "black", "domainWidth": 1.5,
            "titleFontSize": 21, "titleFontWeight": "normal", "titleColor": "black",
            "titleFont": "Liberation Sans", "titlePadding": 15
          }
        },
        "detail": {"field": "sample", "type": "nominal"}
      }
    },
    {
      "data": {"name": "majorTicks"},
      "mark": {"type": "rule", "color": "black", "strokeWidth": 1.5},
      "encoding": {
        "x": {"field": "theta", "type": "quantitative"},
        "y": {"datum": 0},
        "y2": {"datum": 10}
      }
    },
    {
      "data": {"name": "minorTicks"},
      "mark": {"type": "rule", "color": "black", "strokeWidth": 1.5},
      "encoding": {
        "x": {"field": "theta", "type": "quantitative"},
        "y": {"datum": 0},
        "y2": {"datum": 6}
      }
    },
    {
      "data": {"name": "labels"},
      "mark": {"type": "text", "fontSize": 23, "font": "Liberation Sans", "color": "black", "align": "center", "baseline": "middle"},
      "encoding": {
        "x": {"field": "theta", "type": "quantitative"},
        "y": {"field": "intensity", "type": "quantitative"},
        "text": {"field": "text"}
      }
    },
    {
      "data": {"name": "peaks"},
      "mark": {"type": "text", "fontSize": 20, "font": "Liberation Sans", "color": "black", "align": "center", "baseline": "middle", "angle": 270},
      "encoding": {
        "x": {"field": "theta", "type": "quantitative"},
        "y": {"field": "intensity", "type": "quantitative"},
        "text": {"field": "text"}
      }
    }
  ]
}
